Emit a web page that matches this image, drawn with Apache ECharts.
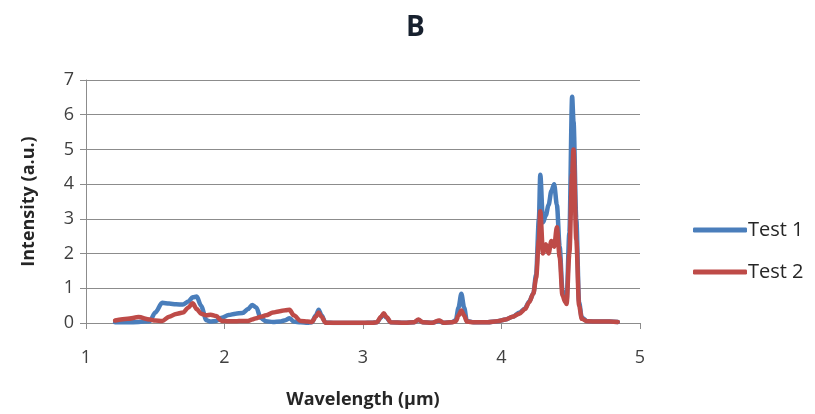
<!DOCTYPE html>
<html>
<head>
<meta charset="utf-8">
<script src="https://cdn.jsdelivr.net/npm/echarts@6/dist/echarts.min.js"></script>
<style>
  html, body { margin: 0; padding: 0; background: #ffffff; }
  #chart { width: 815px; height: 414px; }
</style>
</head>
<body>
<div id="chart"></div>
<script>
// Emission spectra of two test runs (intensity vs. wavelength)
const wavelength = [
  1.21, 1.30, 1.38, 1.46, 1.50, 1.55, 1.60, 1.65, 1.70, 1.74, 1.77, 1.80, 1.83, 1.87, 1.90,
  1.94, 1.98, 2.03, 2.08, 2.13, 2.17, 2.20, 2.23, 2.26, 2.30, 2.35, 2.40, 2.44, 2.47, 2.50,
  2.55, 2.60, 2.63, 2.66, 2.68, 2.70, 2.73, 2.80, 2.90, 3.00, 3.07, 3.10, 3.13, 3.15, 3.17,
  3.20, 3.30, 3.37, 3.40, 3.43, 3.50, 3.55, 3.58, 3.64, 3.67, 3.69, 3.71, 3.73, 3.75, 3.80,
  3.90, 3.97, 4.03, 4.08, 4.13, 4.17, 4.20, 4.23, 4.25, 4.27, 4.28, 4.30, 4.32, 4.34, 4.36,
  4.38, 4.40, 4.42, 4.44, 4.46, 4.47, 4.49, 4.51, 4.52, 4.54, 4.56, 4.58, 4.62, 4.70, 4.78,
  4.84
];

const test1 = [
  0.02, 0.02, 0.03, 0.05, 0.30, 0.58, 0.56, 0.54, 0.53, 0.62, 0.74, 0.76, 0.50, 0.08, 0.04,
  0.06, 0.15, 0.23, 0.27, 0.29, 0.40, 0.52, 0.45, 0.15, 0.05, 0.03, 0.04, 0.08, 0.14, 0.04,
  0.02, 0.01, 0.02, 0.22, 0.38, 0.22, 0.01, 0.00, 0.00, 0.00, 0.01, 0.02, 0.16, 0.26, 0.15,
  0.02, 0.01, 0.02, 0.09, 0.02, 0.01, 0.06, 0.01, 0.02, 0.08, 0.45, 0.84, 0.45, 0.06, 0.02,
  0.02, 0.05, 0.10, 0.18, 0.30, 0.42, 0.62, 0.85, 1.40, 3.00, 4.27, 2.90, 3.10, 3.40, 3.80,
  4.00, 3.40, 2.20, 0.95, 0.70, 0.64, 2.60, 6.52, 5.80, 3.00, 0.60, 0.15, 0.05, 0.04, 0.04,
  0.03
];

const test2 = [
  0.07, 0.12, 0.17, 0.10, 0.07, 0.06, 0.18, 0.26, 0.30, 0.45, 0.57, 0.40, 0.27, 0.22, 0.24,
  0.20, 0.06, 0.05, 0.05, 0.06, 0.06, 0.10, 0.14, 0.18, 0.22, 0.30, 0.34, 0.37, 0.38, 0.22,
  0.06, 0.04, 0.03, 0.18, 0.30, 0.18, 0.01, 0.01, 0.01, 0.01, 0.01, 0.02, 0.18, 0.28, 0.17,
  0.02, 0.01, 0.02, 0.10, 0.02, 0.01, 0.07, 0.01, 0.02, 0.05, 0.22, 0.36, 0.22, 0.04, 0.02,
  0.02, 0.05, 0.10, 0.18, 0.27, 0.40, 0.60, 0.85, 1.30, 2.40, 3.22, 2.00, 2.27, 2.00, 2.36,
  2.20, 2.76, 1.90, 0.80, 0.60, 0.55, 2.00, 4.30, 5.00, 2.40, 0.50, 0.12, 0.05, 0.04, 0.04,
  0.03
];

const seriesNames = ['Test 1', 'Test 2'];
const seriesColors = ['#4a7ebb', '#be4b48'];

const pairs = ys => wavelength.map((x, i) => [x, ys[i]]);

const FONT = '"Open Sans", "DejaVu Sans", sans-serif';
const GRID_GRAY = '#8c8c8c';
const LINE_W = 4.5;

const chart = echarts.init(document.getElementById('chart'), null, { renderer: 'canvas' });

chart.setOption({
  animation: false,
  backgroundColor: '#ffffff',
  title: {
    text: 'B',
    left: 401,
    top: 9,
    textStyle: { fontFamily: FONT, fontWeight: 'bold', fontSize: 28, color: '#17202e' }
  },
  legend: {
    orient: 'vertical',
    left: 688,
    top: 215,
    icon: 'roundRect',
    itemWidth: 54,
    itemHeight: 5,
    itemGap: 22,
    textStyle: { fontFamily: FONT, fontSize: 20, color: '#262626', padding: [0, 0, 0, -4] },
    data: seriesNames
  },
  grid: { left: 86, right: 175, top: 80, bottom: 90, containLabel: false },
  xAxis: {
    type: 'value',
    min: 1,
    max: 5,
    interval: 1,
    name: 'Wavelength (µm)',
    nameLocation: 'middle',
    nameGap: 68,
    nameTextStyle: { fontFamily: FONT, fontWeight: 'bold', fontSize: 18, color: '#262626' },
    axisLine: { show: true, onZero: false, lineStyle: { color: GRID_GRAY, width: 1 } },
    axisTick: { show: true, inside: false, length: 6, lineStyle: { color: GRID_GRAY } },
    axisLabel: { fontFamily: FONT, fontSize: 18, color: '#404040', margin: 26 },
    splitLine: { show: false }
  },
  yAxis: {
    type: 'value',
    min: 0,
    max: 7,
    interval: 1,
    name: 'Intensity (a.u.)',
    nameLocation: 'middle',
    nameGap: 48,
    nameTextStyle: { fontFamily: FONT, fontWeight: 'bold', fontSize: 18, color: '#262626' },
    axisLine: { show: true, lineStyle: { color: GRID_GRAY, width: 1 } },
    axisTick: { show: true, inside: false, length: 6, lineStyle: { color: GRID_GRAY } },
    axisLabel: { fontFamily: FONT, fontSize: 18, color: '#404040', margin: 12 },
    splitLine: { show: true, lineStyle: { color: GRID_GRAY, width: 1 } }
  },
  series: [
    {
      name: seriesNames[0],
      type: 'line',
      data: pairs(test1),
      symbol: 'none',
      smooth: 0.3,
      smoothMonotone: 'x',
      color: seriesColors[0],
      lineStyle: { width: LINE_W, color: seriesColors[0], cap: 'round', join: 'round' },
      z: 2
    },
    {
      name: seriesNames[1],
      type: 'line',
      data: pairs(test2),
      symbol: 'none',
      smooth: 0.3,
      smoothMonotone: 'x',
      color: seriesColors[1],
      lineStyle: { width: LINE_W, color: seriesColors[1], cap: 'round', join: 'round' },
      z: 3
    }
  ]
});
</script>
</body>
</html>
